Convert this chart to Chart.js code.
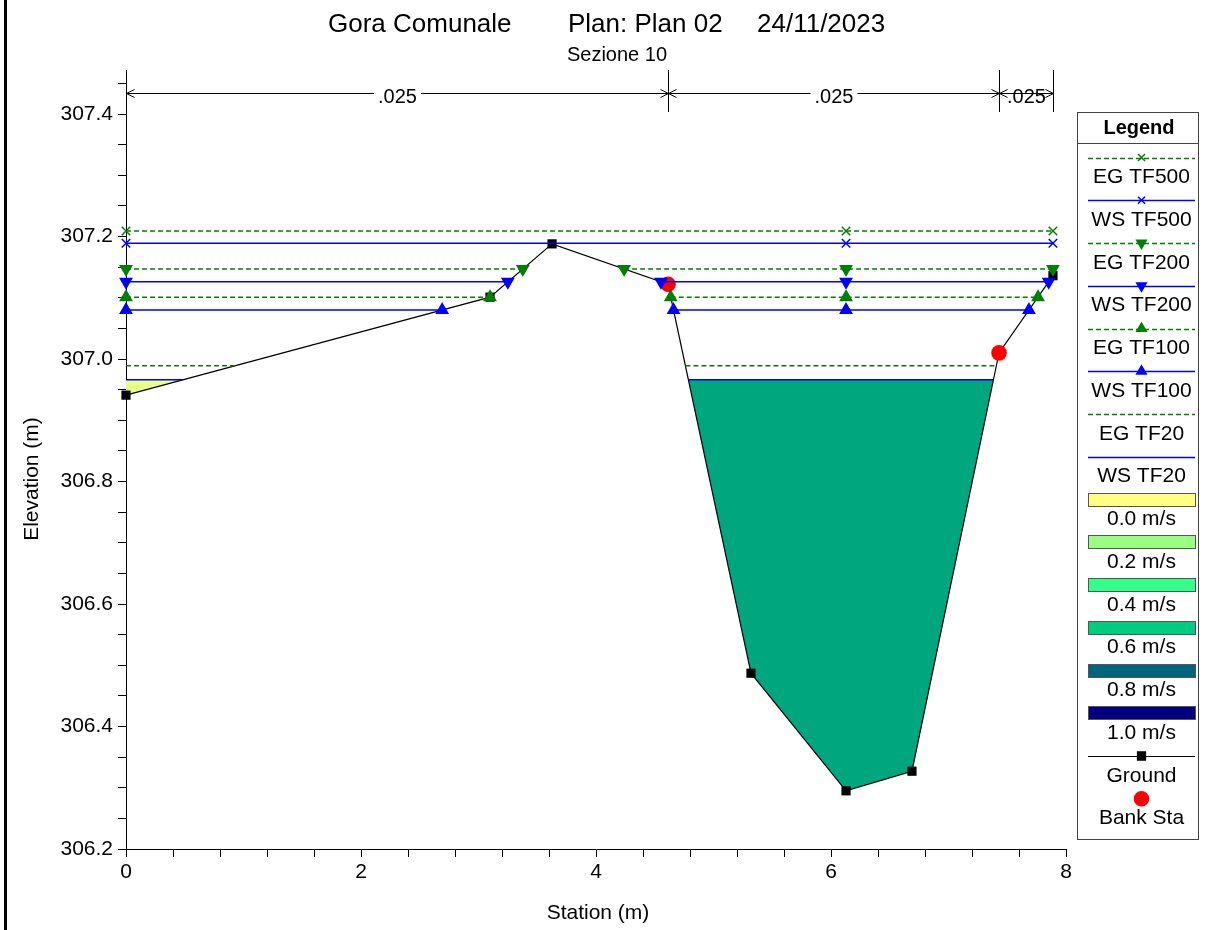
<!DOCTYPE html>
<html>
<head>
<meta charset="utf-8">
<script src="https://cdn.jsdelivr.net/npm/chart.js@4/dist/chart.umd.min.js"></script>
<style>
  html, body { margin: 0; padding: 0; background: #fff; }
  #wrap { width: 1215px; height: 930px; position: relative; }
</style>
</head>
<body>
<div id="wrap"><canvas id="c" width="1215" height="930"></canvas></div>
<script>
// ---- Cross section geometry (station m, elevation m) ----
const groundSta  = [0, 3.098, 3.626, 4.613, 5.319, 6.128, 6.689, 7.430, 7.889];
const groundElev = [306.941, 307.101, 307.188, 307.122, 306.487, 306.295, 306.327, 307.010, 307.136];

// Bank stations
const bankSta  = [4.613, 7.430];
const bankElev = [307.122, 307.010];

// Manning's n regions
const nBreaks = [0, 4.613, 7.430, 7.889];
const nValues = ['.025', '.025', '.025'];

// Profiles: energy grade (EG) and water surface (WS) elevations
const profileNames = ['EG TF500', 'WS TF500', 'EG TF200', 'WS TF200', 'EG TF100', 'WS TF100', 'EG TF20', 'WS TF20'];
const profileElev  = [307.209, 307.189, 307.147, 307.126, 307.101, 307.080, 306.989, 306.966];

// Stations along each profile line (null = break between wetted reaches)
const egTF500Sta = [0, 6.128, 7.889];
const wsTF500Sta = [0, 6.128, 7.889];
const egTF200Sta = [0, 3.377, null, 4.239, 6.128, 7.889];
const wsTF200Sta = [0, 3.250, null, 4.553, 6.128, 7.853];
const egTF100Sta = [0, 3.098, null, 4.636, 6.128, 7.762];
const wsTF100Sta = [0, 2.691, null, 4.660, 6.128, 7.685];
const egTF20Sta  = [0, 0.929, null, 4.761, 7.407];
const wsTF20Sta  = [0, 0.484, null, 4.786, 7.382];

// Velocity distribution for TF20: wetted areas below the water surface
const velLeftSta   = [0, 0.484];
const velLeftElev  = [306.941, 306.966];
const velChanSta   = [4.786, 5.319, 6.128, 6.689, 7.382];
const velChanElev  = [306.966, 306.487, 306.295, 306.327, 306.966];
const velClasses   = ['0.0 m/s', '0.2 m/s', '0.4 m/s', '0.6 m/s', '0.8 m/s', '1.0 m/s'];

// Axis ticks
const xMajorTicks = [0, 2, 4, 6, 8];
const yMajorTicks = [306.2, 306.4, 306.6, 306.8, 307.0, 307.2, 307.4];

// Header texts
const titleParts = ['Gora Comunale', 'Plan: Plan 02', '24/11/2023'];
const subTitle = 'Sezione 10';
const xTitle = 'Station (m)';
const yTitle = 'Elevation (m)';

// ---- Styles ----
const FONT = '"Liberation Sans", Arial, Helvetica, sans-serif';
const GREEN = '#008000';
const BLUE = '#0000FF';
const EG_DASH = [5, 3];
const velColors = ['#FFFF80', '#99FF80', '#33FF88', '#00CC80', '#006680', '#000080'];
const LEFT_FILL = '#EAFF88';
const CHAN_FILL = '#00A67E';

const profileStyle = [
  { color: GREEN, dash: EG_DASH, marker: 'crossRot', rot: 0,   radius: 6 },
  { color: BLUE,  dash: [],      marker: 'crossRot', rot: 0,   radius: 6 },
  { color: GREEN, dash: EG_DASH, marker: 'triangle', rot: 180, radius: 6.5 },
  { color: BLUE,  dash: [],      marker: 'triangle', rot: 180, radius: 6.5 },
  { color: GREEN, dash: EG_DASH, marker: 'triangle', rot: 0,   radius: 6.5 },
  { color: BLUE,  dash: [],      marker: 'triangle', rot: 0,   radius: 6.5 },
  { color: GREEN, dash: EG_DASH, marker: false,      rot: 0,   radius: 0 },
  { color: BLUE,  dash: [],      marker: false,      rot: 0,   radius: 0 }
];
const profileStations = [egTF500Sta, wsTF500Sta, egTF200Sta, wsTF200Sta, egTF100Sta, wsTF100Sta, egTF20Sta, wsTF20Sta];

const pts = (xs, ys) => xs.map((x, i) => ({ x: x, y: ys[i] }));
const flat = (xs, y) => xs.map(x => x === null ? { x: null, y: null } : { x: x, y: y });

const datasets = [];

// velocity fills (bottom layer)
datasets.push({
  label: velClasses[0], data: pts(velLeftSta, velLeftElev),
  borderWidth: 0, pointRadius: 0, fill: { value: profileElev[7] },
  backgroundColor: LEFT_FILL, borderColor: 'rgba(0,0,0,0)', order: 10
});
datasets.push({
  label: velClasses[3], data: pts(velChanSta, velChanElev),
  borderWidth: 0, pointRadius: 0, fill: { value: profileElev[7] },
  backgroundColor: CHAN_FILL, borderColor: 'rgba(0,0,0,0)', order: 10
});

// ground
datasets.push({
  label: 'Ground', data: pts(groundSta, groundElev),
  borderColor: '#000', borderWidth: 1.2, fill: false, clip: false,
  pointStyle: 'rect', pointRadius: 6.5, pointBackgroundColor: '#000', pointBorderColor: '#000', pointBorderWidth: 0,
  order: 8
});

// bank stations
datasets.push({
  label: 'Bank Sta', data: pts(bankSta, bankElev), showLine: false, clip: false,
  pointStyle: 'circle', pointRadius: 7.8, pointBackgroundColor: '#FF0000', pointBorderColor: '#FF0000', pointBorderWidth: 0,
  order: 6
});

// profiles
profileNames.forEach((name, i) => {
  const st = profileStyle[i];
  datasets.push({
    label: name, data: flat(profileStations[i], profileElev[i]),
    borderColor: st.color, borderWidth: 1.5, borderDash: st.dash, fill: false, clip: false,
    pointStyle: st.marker || 'circle', pointRotation: st.rot, pointRadius: st.radius,
    pointBackgroundColor: st.color, pointBorderColor: st.color, pointBorderWidth: 1.5,
    order: 4
  });
});

const xTickValues = [];
for (let i = 0; i <= 20; i++) xTickValues.push(+(i * 0.4).toFixed(2));
const yTickValues = [];
for (let i = 0; i <= 25; i++) yTickValues.push(+(306.2 + i * 0.05).toFixed(2));
const isIn = (arr, v) => arr.some(m => Math.abs(m - v) < 1e-6);

// ---- Decorations: frame, titles, Manning's n bar, legend ----
const deco = {
  id: 'deco',
  beforeDraw(chart) {
    const ctx = chart.ctx;
    ctx.save();
    ctx.fillStyle = '#fff';
    ctx.fillRect(0, 0, chart.width, chart.height);
    ctx.fillStyle = '#000';
    ctx.fillRect(4, 0, 3, chart.height);
    ctx.restore();
  },
  afterDraw(chart) {
    const ctx = chart.ctx;
    const xs = chart.scales.x;
    ctx.save();
    ctx.fillStyle = '#000';
    ctx.textBaseline = 'alphabetic';

    // titles
    ctx.font = '26px ' + FONT;
    ctx.textAlign = 'left';
    ctx.fillText(titleParts[0], 328, 32);
    ctx.fillText(titleParts[1], 568, 32);
    ctx.fillText(titleParts[2], 757, 32);
    ctx.font = '20px ' + FONT;
    ctx.textAlign = 'center';
    ctx.fillText(subTitle, 617, 61);

    // axis titles
    ctx.font = '21px ' + FONT;
    ctx.textBaseline = 'middle';
    ctx.fillText(xTitle, 598, 913);
    ctx.save();
    ctx.translate(32, 479);
    ctx.rotate(-Math.PI / 2);
    ctx.fillText(yTitle, 0, 0);
    ctx.restore();

    // Manning's n bar
    const yBar = 93.5;
    ctx.strokeStyle = '#000';
    ctx.lineWidth = 1;
    nBreaks.forEach(s => {
      const px = Math.round(xs.getPixelForValue(s)) + 0.5;
      ctx.beginPath(); ctx.moveTo(px, 70); ctx.lineTo(px, 112); ctx.stroke();
    });
    ctx.font = '20px ' + FONT;
    ctx.textBaseline = 'alphabetic';
    for (let i = 0; i < nValues.length; i++) {
      const x1 = Math.round(xs.getPixelForValue(nBreaks[i])) + 0.5;
      const x2 = Math.round(xs.getPixelForValue(nBreaks[i + 1])) + 0.5;
      ctx.beginPath();
      ctx.moveTo(x1, yBar); ctx.lineTo(x2, yBar);
      ctx.moveTo(x1 + 8, yBar - 4); ctx.lineTo(x1, yBar); ctx.lineTo(x1 + 8, yBar + 4);
      ctx.moveTo(x2 - 8, yBar - 4); ctx.lineTo(x2, yBar); ctx.lineTo(x2 - 8, yBar + 4);
      ctx.stroke();
      const cx = (x1 + x2) / 2;
      const w = ctx.measureText(nValues[i]).width;
      if (x2 - x1 > w + 20) {
        ctx.fillStyle = '#fff';
        ctx.fillRect(cx - w / 2 - 4, yBar - 9, w + 8, 18);
      }
      ctx.fillStyle = '#000';
      ctx.fillText(nValues[i], cx, 103);
    }

    // legend
    const L = { x: 1077.5, y: 112.5, w: 121, h: 727 };
    const cx = 1141.5, lx1 = 1088, lx2 = 1195, y0 = 157.5, step = 42.75, tOff = 25.5;
    ctx.fillStyle = '#fff';
    ctx.fillRect(L.x, L.y, L.w, L.h);
    ctx.strokeStyle = '#444';
    ctx.lineWidth = 1;
    ctx.strokeRect(L.x, L.y, L.w, L.h);
    ctx.beginPath(); ctx.moveTo(L.x, 143.5); ctx.lineTo(L.x + L.w, 143.5); ctx.stroke();
    ctx.fillStyle = '#000';
    ctx.font = 'bold 20px ' + FONT;
    ctx.textAlign = 'center';
    ctx.fillText('Legend', 1139, 134);
    ctx.font = '21px ' + FONT;

    const drawMarker = (style, color, r, rot, x, y) => {
      ctx.save();
      ctx.fillStyle = color; ctx.strokeStyle = color; ctx.lineWidth = 1.5; ctx.setLineDash([]);
      Chart.helpers.drawPoint(ctx, { pointStyle: style, radius: r, rotation: rot, borderWidth: 1.5 }, x, y);
      ctx.restore();
    };
    let row = 0;
    profileNames.forEach((name, i) => {
      const st = profileStyle[i];
      const y = y0 + row * step;
      ctx.save();
      ctx.strokeStyle = st.color; ctx.lineWidth = 1.5; ctx.setLineDash(st.dash);
      ctx.beginPath(); ctx.moveTo(lx1, Math.round(y) + 0.5); ctx.lineTo(lx2, Math.round(y) + 0.5); ctx.stroke();
      ctx.restore();
      if (st.marker) drawMarker(st.marker, st.color, st.radius - 1, st.rot, cx, y);
      ctx.fillStyle = '#000';
      ctx.fillText(name, cx, y + tOff);
      row++;
    });
    velClasses.forEach((name, i) => {
      const y = y0 + row * step;
      ctx.fillStyle = velColors[i];
      ctx.fillRect(lx1 + 0.5, Math.round(y) - 6.5, lx2 - lx1, 13);
      ctx.strokeStyle = '#555';
      ctx.strokeRect(lx1 + 0.5, Math.round(y) - 6.5, lx2 - lx1, 13);
      ctx.fillStyle = '#000';
      ctx.fillText(name, cx, y + tOff);
      row++;
    });
    // Ground
    let y = y0 + row * step;
    ctx.strokeStyle = '#000'; ctx.lineWidth = 1.2;
    ctx.beginPath(); ctx.moveTo(lx1, Math.round(y) + 0.5); ctx.lineTo(lx2, Math.round(y) + 0.5); ctx.stroke();
    drawMarker('rect', '#000', 5.5, 0, cx, y);
    ctx.fillStyle = '#000';
    ctx.fillText('Ground', cx, y + tOff);
    row++;
    // Bank Sta
    y = y0 + row * step;
    drawMarker('circle', '#FF0000', 7, 0, cx, y);
    ctx.fillStyle = '#000';
    ctx.fillText('Bank Sta', cx, y + tOff);

    ctx.restore();
  }
};

new Chart(document.getElementById('c'), {
  type: 'line',
  data: { datasets: datasets },
  options: {
    responsive: false,
    animation: false,
    events: [],
    layout: { padding: { left: 0, right: 149, top: 72, bottom: 0 } },
    plugins: {
      legend: { display: false },
      tooltip: { enabled: false },
      title: { display: false }
    },
    elements: { line: { tension: 0 } },
    scales: {
      x: {
        type: 'linear', min: 0, max: 8,
        afterBuildTicks: s => { s.ticks = xTickValues.map(v => ({ value: v })); },
        afterFit: s => { s.height = 81; },
        grid: { drawOnChartArea: false, drawTicks: true, tickLength: 8, color: '#000', lineWidth: 1 },
        border: { color: '#000', width: 1 },
        ticks: {
          font: { family: FONT, size: 21 }, color: '#000', padding: 3,
          maxRotation: 0, autoSkip: false,
          callback: v => isIn(xMajorTicks, v) ? String(Math.round(v)) : ''
        }
      },
      y: {
        type: 'linear', min: 306.2, max: 307.4686,
        afterBuildTicks: s => { s.ticks = yTickValues.map(v => ({ value: v })); },
        afterFit: s => { s.width = 126; },
        grid: { drawOnChartArea: false, drawTicks: true, tickLength: 8, color: '#000', lineWidth: 1 },
        border: { color: '#000', width: 1 },
        ticks: {
          font: { family: FONT, size: 21 }, color: '#000', padding: 5,
          autoSkip: false,
          callback: v => isIn(yMajorTicks, v) ? v.toFixed(1) : ''
        }
      }
    }
  },
  plugins: [deco]
});
</script>
</body>
</html>
